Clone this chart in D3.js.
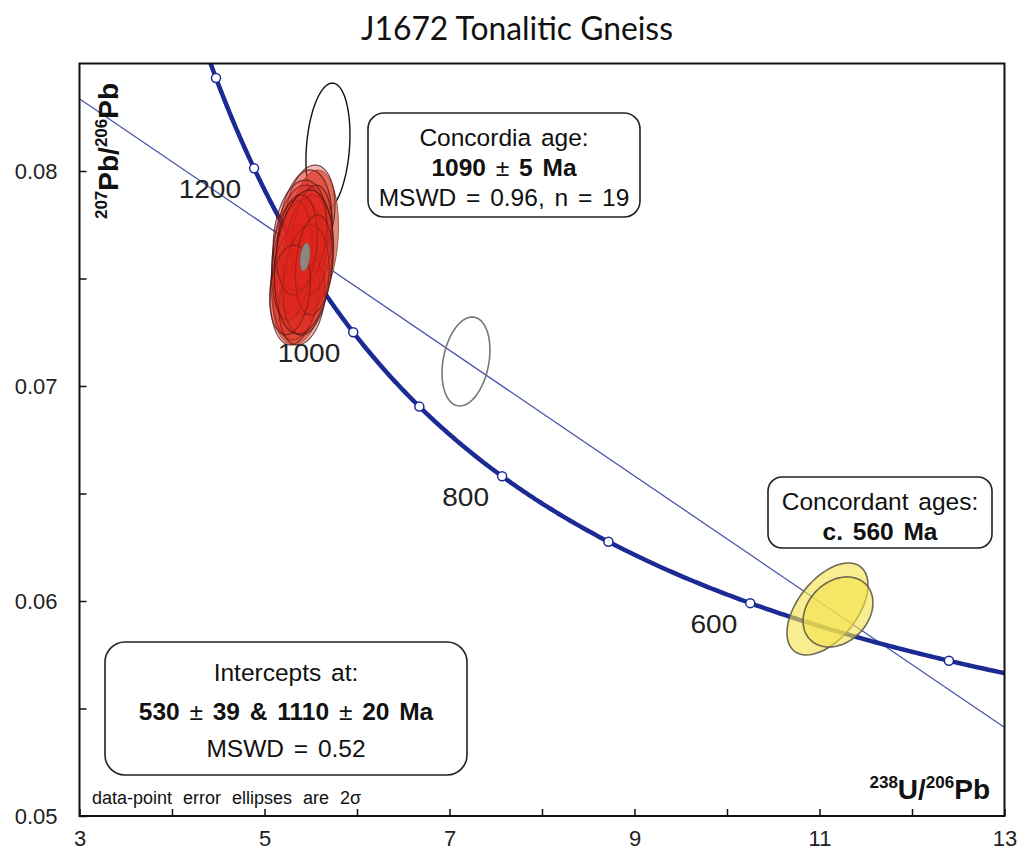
<!DOCTYPE html>
<html><head><meta charset="utf-8">
<script src="https://cdn.jsdelivr.net/npm/d3@7"></script>
<style>
body{margin:0;background:#fff;}
svg{display:block;font-family:"Liberation Sans",Arial,sans-serif;}
</style></head>
<body><svg id="c" width="1021" height="852"></svg>
<script>
// ---- data ----
const title = "J1672 Tonalitic Gneiss";
const xTicks = [3,4,5,6,7,8,9,10,11,12,13];
const xTickLabels = [3,5,7,9,11,13];
const yTicks = [0.05,0.055,0.06,0.065,0.07,0.075,0.08];
const yTickLabels = [0.05,0.06,0.07,0.08];
const decay238 = 1.55125e-10, decay235 = 9.8485e-10, u238u235 = 137.88;
const markerAges = [500,600,700,800,900,1000,1100,1200,1300];
const labelledAges = [600,800,1000,1200];
const interceptAges = [530,1110];
// ellipses: [x, y, 2σx, 2σy, rho]
const salmonEllipses = [[5.52,0.07679,0.28,0.00326,0.2],[5.37,0.07447,0.28,0.00256,0.2]];
const redEllipses = [
 [5.492,0.07795,0.27,0.00233,0.2],[5.438,0.07726,0.29,0.00279,0.2],[5.384,0.07633,0.30,0.00302,0.2],
 [5.362,0.07540,0.29,0.00326,0.2],[5.470,0.07609,0.27,0.00279,0.2],[5.330,0.07470,0.27,0.00279,0.2],
 [5.405,0.07400,0.25,0.00209,0.2],[5.514,0.07679,0.22,0.00256,0.2],[5.297,0.07586,0.22,0.00279,0.2],
 [5.384,0.07702,0.29,0.00256,0.2],[5.449,0.07493,0.25,0.00256,0.2],[5.351,0.07656,0.22,0.00233,0.2],
 [5.535,0.07563,0.20,0.00233,0.2],[5.276,0.07447,0.22,0.00209,0.2],[5.427,0.07577,0.32,0.00335,0.2]
];
const meanEllipse = [[5.438,0.07600,0.054,0.00065,0.3]];
const openEllipses = [[5.686,0.08109,0.238,0.00300,0.2]];
const greyEllipses = [[7.178,0.07114,0.259,0.00207,0.26]];
const yellowEllipses = [[11.086,0.05963,0.438,0.00214,0.52],[11.20,0.05949,0.378,0.00163,0.26]];

// ---- layout ----
const L=79.5, R=1004.5, T=63.5, B=816;
const svg = d3.select("#c");
const x = d3.scaleLinear().domain([3,13]).range([L,R]);
const y = d3.scaleLinear().domain([0.05,0.085]).range([B,T]);

function conc(tMa){const t=tMa*1e6;const a=Math.expm1(decay238*t),b=Math.expm1(decay235*t);return [1/a,b/a/u238u235];}

svg.append("defs").append("clipPath").attr("id","clip").append("rect")
  .attr("x",L).attr("y",T).attr("width",R-L).attr("height",B-T);

// title
const tt = svg.append("text").attr("x",517).attr("y",40).attr("text-anchor","middle")
  .style("font-family","Lato, 'Open Sans', sans-serif").style("font-size","32px").attr("fill","#111").text(title);
const tw = tt.node().getComputedTextLength();
tt.style("font-size",(32*312/tw).toFixed(2)+"px");

const plot = svg.append("g").attr("clip-path","url(#clip)");

// discordia
const p1 = conc(interceptAges[0]), p2 = conc(interceptAges[1]);
const slope = (p2[1]-p1[1])/(p2[0]-p1[0]);
const line = d3.line().x(d=>x(d[0])).y(d=>y(d[1]));
plot.append("path").attr("d",line([[2.5,p1[1]+slope*(2.5-p1[0])],[13.5,p1[1]+slope*(13.5-p1[0])]]))
  .attr("fill","none").attr("stroke","#4a56ad").attr("stroke-width",1.3);

// concordia curve
const ages = d3.range(430,1500,2);
plot.append("path").attr("d",line(ages.map(conc))).attr("fill","none")
  .attr("stroke","#1c2a94").attr("stroke-width",4.5);
plot.selectAll("circle.m").data(markerAges).join("circle").attr("class","m")
  .attr("cx",d=>x(conc(d)[0])).attr("cy",d=>y(conc(d)[1])).attr("r",4.5)
  .attr("fill","#fff").attr("stroke","#1c2a94").attr("stroke-width",1.5);

// age labels
svg.selectAll("text.age").data(labelledAges).join("text").attr("class","age")
  .attr("x",d=>x(conc(d)[0])-13).attr("y",d=>y(conc(d)[1])+30)
  .attr("text-anchor","end").style("font-size","26px").attr("fill","#222")
  .attr("transform",d=>{const px=x(conc(d)[0])-13;return `translate(${px},0) scale(1.08,1) translate(${-px},0)`;})
  .text(d=>d);

// ellipses
function ell(d){const [cx,cy,sx,sy,r]=d;const q=Math.sqrt(1-r*r);
  return d3.range(0,72).map(i=>{const a=i/72*2*Math.PI;return [cx+sx*Math.cos(a), cy+sy*(r*Math.cos(a)+q*Math.sin(a))];});}
const eline = d3.line().x(d=>x(d[0])).y(d=>y(d[1])).curve(d3.curveLinearClosed);
function drawE(data,fill,fo,stroke,sw,so){
  plot.append("g").selectAll("path").data(data).join("path").attr("d",d=>eline(ell(d)))
   .attr("fill",fill).attr("fill-opacity",fo).attr("stroke",stroke).attr("stroke-width",sw).attr("stroke-opacity",so);}
drawE(openEllipses,"none",0,"#111",1.4,1);
drawE(greyEllipses,"none",0,"#777",1.6,1);
drawE(salmonEllipses,"#e4755c",0.85,"#8a4636",1,0.8);
drawE(redEllipses,"#e0261c",0.32,"#3e1812",1.2,0.7);
drawE(meanEllipse,"#8d8580",1,"#6d6560",0.6,1);
drawE(yellowEllipses,"#f3e24c",0.62,"#5e5a48",1.6,0.9);

// frame
svg.append("rect").attr("x",L).attr("y",T).attr("width",R-L).attr("height",B-T)
  .attr("fill","none").attr("stroke","#111").attr("stroke-width",2);

// axes
const fmtY = d=> yTickLabels.some(v=>Math.abs(v-d)<1e-9) ? d3.format(".2f")(d) : "";
const fmtX = d=> xTickLabels.includes(d) ? d : "";
const gx = svg.append("g").attr("transform",`translate(0,${B})`)
  .call(d3.axisBottom(x).tickValues(xTicks).tickSize(-7).tickPadding(14).tickFormat(fmtX));
const gy = svg.append("g").attr("transform",`translate(${L},0)`)
  .call(d3.axisLeft(y).tickValues(yTicks).tickSize(-7).tickPadding(22).tickFormat(fmtY));
[gx,gy].forEach(g=>{g.select(".domain").remove();
  g.selectAll("line").attr("stroke","#111").attr("stroke-width",1.5);
  g.selectAll("text").style("font-family","'Liberation Sans',Arial,sans-serif").style("font-size","22px").attr("fill","#222");});

// axis titles
const yl = svg.append("text").attr("transform","translate(118,151) rotate(-90)").attr("text-anchor","middle")
  .style("font-weight","bold").attr("fill","#111");
yl.append("tspan").style("font-size","17px").attr("dy","-11").text("207");
yl.append("tspan").style("font-size","28px").attr("dy","11").text("Pb/");
yl.append("tspan").style("font-size","17px").attr("dy","-11").text("206");
yl.append("tspan").style("font-size","28px").attr("dy","11").text("Pb");

const xl = svg.append("text").attr("x",990).attr("y",799).attr("text-anchor","end")
  .style("font-weight","bold").attr("fill","#111");
xl.append("tspan").style("font-size","17px").attr("dy","-11").text("238");
xl.append("tspan").style("font-size","28px").attr("dy","11").text("U/");
xl.append("tspan").style("font-size","17px").attr("dy","-11").text("206");
xl.append("tspan").style("font-size","28px").attr("dy","11").text("Pb");

svg.append("text").attr("x",92).attr("y",804).style("font-size","18px").style("word-spacing","6px")
  .attr("fill","#111").text("data-point error ellipses are 2σ");

// boxes
function box(x0,y0,x1,y1,r,lines){
  svg.append("rect").attr("x",x0).attr("y",y0).attr("width",x1-x0).attr("height",y1-y0).attr("rx",r)
   .attr("fill","#fff").attr("stroke","#222").attr("stroke-width",1.6);
  lines.forEach(l=>{
    const t = svg.append("text").attr("x",(x0+x1)/2).attr("y",l.y).attr("text-anchor","middle")
      .style("font-size","24.5px").style("word-spacing","3px").attr("fill","#111")
      .style("font-weight",l.bold?"bold":"normal");
    l.parts.forEach(p=>t.append("tspan").style("font-weight",p==="±"?"normal":null).text(p));
  });
}
box(368,113,640,217,16,[
  {y:146,parts:["Concordia age:"]},
  {y:176,bold:true,parts:["1090 ","±"," 5 Ma"]},
  {y:206,parts:["MSWD = 0.96, n = 19"]}]);
box(768,477,992,548,14,[
  {y:510,parts:["Concordant ages:"]},
  {y:540,bold:true,parts:["c. 560 Ma"]}]);
box(105,642,467,775,20,[
  {y:681,parts:["Intercepts at:"]},
  {y:720,bold:true,parts:["530 ","±"," 39 & 1110 ","±"," 20 Ma"]},
  {y:757,parts:["MSWD = 0.52"]}]);
</script></body></html>
